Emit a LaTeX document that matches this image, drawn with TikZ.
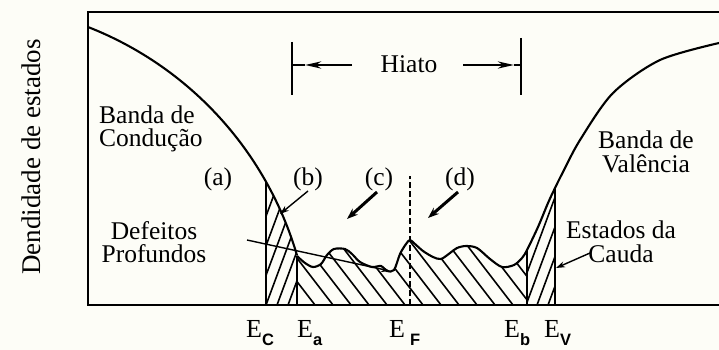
\documentclass[tikz,border=0pt]{standalone}
\usepackage{fontspec}
\setmainfont{Liberation Serif}
\newfontfamily\subsf{Liberation Sans}
\usetikzlibrary{arrows.meta}
\definecolor{bgcol}{RGB}{253,253,247}
\newcommand\esub[1]{\raisebox{-8pt}{\subsf\bfseries\fontsize{16.5}{16.5}\selectfont #1}}
\begin{document}
\begin{tikzpicture}[x=1pt,y=-1pt,
  lbl/.style={font=\fontsize{25.5}{23.5}\selectfont, inner sep=0pt, align=center},
  elbl/.style={font=\fontsize{26}{26}\selectfont, inner sep=0pt, anchor=base west},
  curve/.style={line width=2.1pt},
  frame/.style={line width=2.3pt},
  vline/.style={line width=2pt},
  hatchline/.style={line width=1.6pt},
  ptr/.style={line width=1.4pt,-{Stealth[length=9pt,width=6pt]}},
  thickptr/.style={line width=3pt,-{Stealth[length=11pt,width=8pt]}},
  hbar/.style={line width=2.4pt},
  harrow/.style={line width=2.6pt,-{Stealth[length=16pt,width=7pt]}},
]
\fill[bgcol] (0,0) rectangle (719,350);
\useasboundingbox (0,0) rectangle (719,350);

% ---------- hatching: conduction tail ----------
\begin{scope}
  \clip (266,0) rectangle (297,305);
  \clip plot[domain=88:297,samples=80] (\x,{354-100*sqrt(12.3313-((\x+40)/100)^2)}) -- (297,305) -- (88,305) -- cycle;
  \foreach \k in {0,...,9} \draw[hatchline] (222+11*\k,305) -- ++(52,-140);
\end{scope}
% ---------- hatching: defect band ----------
\begin{scope}
  \clip (297,0) rectangle (527,305);
  \clip plot[smooth] coordinates {(297,256) (305,263) (313,267) (321,264) (327,255) (334,249) (345,249) (352,254) (360,262) (372,267) (381,266) (387,271) (394,270) (400,254) (406,244) (410,240) (415,244) (423,251) (433,257) (441,259) (450,253) (457,248) (466,246) (477,248) (490,259) (502,267) (514,265) (522,258) (527,250) (538,227) (548,203) (555,188) (563,172) (580,140) (613,93) (660,60) (719,43)} -- (719,305) -- (297,305) -- cycle;
  \foreach \k in {0,...,16} \draw[hatchline] (297+18*\k,305) -- ++(-60,-78);
\end{scope}
% ---------- hatching: valence tail ----------
\begin{scope}
  \clip (527,0) rectangle (555,305);
  \clip plot[smooth] coordinates {(297,256) (305,263) (313,267) (321,264) (327,255) (334,249) (345,249) (352,254) (360,262) (372,267) (381,266) (387,271) (394,270) (400,254) (406,244) (410,240) (415,244) (423,251) (433,257) (441,259) (450,253) (457,248) (466,246) (477,248) (490,259) (502,267) (514,265) (522,258) (527,250) (538,227) (548,203) (555,188) (563,172) (580,140) (613,93) (660,60) (719,43)} -- (719,305) -- (297,305) -- cycle;
  \foreach \k in {0,...,8} \draw[hatchline] (482+11*\k,305) -- ++(52,-140);
\end{scope}

% ---------- curves ----------
\draw[curve] plot[domain=88:297,samples=80] (\x,{354-100*sqrt(12.3313-((\x+40)/100)^2)});
\draw[curve] plot[smooth] coordinates {(297,256) (305,263) (313,267) (321,264) (327,255) (334,249) (345,249) (352,254) (360,262) (372,267) (381,266) (387,271) (394,270) (400,254) (406,244) (410,240) (415,244) (423,251) (433,257) (441,259) (450,253) (457,248) (466,246) (477,248) (490,259) (502,267) (514,265) (522,258) (527,250) (538,227) (548,203) (555,188) (563,172) (580,140) (613,93) (660,60) (719,43)};

% ---------- frame ----------
\coordinate (ftr) at (719,12);
\coordinate (ftl) at (88,12);
\coordinate (fbl) at (88,305);
\coordinate (fbr) at (719,305);
\draw[frame] (ftr) -- (ftl) -- (fbl) -- (fbr);

% ---------- energy lines ----------
\coordinate (ecb) at (266,305); \coordinate (ect) at (266,182);
\coordinate (eab) at (297,305); \coordinate (eat) at (297,256);
\coordinate (ebb) at (527,305); \coordinate (ebt) at (527,250);
\coordinate (evb) at (555,305); \coordinate (evt) at (555,188);
\coordinate (efb) at (410,305); \coordinate (eft) at (410,176);
\draw[vline] (ecb) -- (ect);
\draw[vline] (eab) -- (eat);
\draw[vline] (ebb) -- (ebt);
\draw[vline] (evb) -- (evt);
\draw[line width=1.4pt, dash pattern=on 6pt off 3pt] (efb) -- (eft);

% ---------- energy labels ----------
\node[elbl] (lec) at (246,337) {E\esub{C}};
\node[elbl] (lea) at (297,337) {E\esub{a}};
\node[elbl] (lef) at (389,337) {E\hspace{5pt}\esub{F}};
\node[elbl] (leb) at (504,337) {E\esub{b}};
\node[elbl] (lev) at (544,337) {E\esub{V}};

% ---------- axis label ----------
\node[font=\fontsize{27}{27}\selectfont, rotate=90, inner sep=0pt] (ylab) at (31,157) {Dendidade de estados};

% ---------- Hiato ----------
\node[lbl] (hiato) at (409,64) {Hiato};
\coordinate (lb1) at (292,42); \coordinate (lb2) at (292,95);
\coordinate (rb1) at (521,38); \coordinate (rb2) at (521,95);
\draw[hbar] (lb1) -- (lb2);
\draw[hbar] (rb1) -- (rb2);
\coordinate (hl0) at (352,65); \coordinate (hl1) at (305,65); \coordinate (hl2) at (292,65);
\coordinate (hr0) at (463,65); \coordinate (hr1) at (514,65); \coordinate (hr2) at (521,65);
\draw[harrow] (hl0) -- (hl1);
\draw[line width=2.6pt] (hl1) -- (hl2);
\draw[harrow] (hr0) -- (hr1);
\draw[line width=2.6pt] (hr1) -- (hr2);

% ---------- band labels ----------
\node[lbl, align=left, anchor=west] (bc) at (99,129) {Banda de\\Condução};
\node[lbl] (bv) at (646,152) {Banda de\\Valência};
\node[lbl] (df) at (154,242) {Defeitos\\Profundos};
\node[lbl] (ec2) at (621,242) {Estados da\\Cauda};
\node[lbl] (la) at (218,179) {(a)};
\node[lbl] (lb) at (308,179) {(b)};
\node[lbl] (lc) at (379,179) {(c)};
\node[lbl] (ld) at (460,179) {(d)};

% ---------- pointers ----------
\coordinate (bs) at (308,191);
\coordinate (bt) at (280,214);
\coordinate (cs) at (377,192);
\coordinate (ct) at (347,219);
\coordinate (ds) at (458,192);
\coordinate (dt) at (428,218);
\coordinate (dfs) at (247,240);
\coordinate (dft) at (390,271);
\coordinate (cds) at (590,253);
\coordinate (cdt) at (556,268);
\draw[ptr] (bs) -- (bt);
\draw[thickptr] (cs) -- (ct);
\draw[thickptr] (ds) -- (dt);
\draw[ptr] (dfs) -- (dft);
\draw[ptr] (cds) -- (cdt);
\end{tikzpicture}
\end{document}
